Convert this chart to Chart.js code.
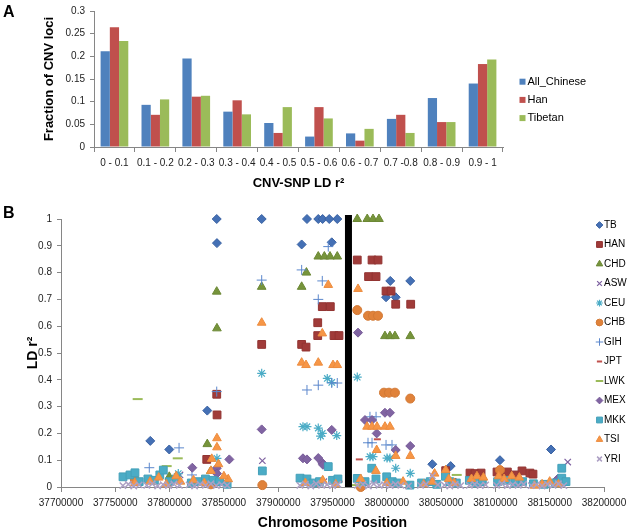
<!DOCTYPE html>
<html>
<head>
<meta charset="utf-8">
<script src="https://cdn.jsdelivr.net/npm/chart.js@4.4.1/dist/chart.umd.min.js"></script>
<style>
body { margin: 0; background: #fff; width: 632px; height: 532px; position: relative; overflow: hidden; font-family: Arial, "Liberation Sans", sans-serif; }
canvas { position: absolute; left: 0; }
#chartA { top: 0; }
#chartB { top: 195px; }
.panel { position: absolute; font-weight: bold; font-size: 16px; color: #000; }
</style>
</head>
<body>
<canvas id="chartA" width="632" height="195"></canvas>
<canvas id="chartB" width="632" height="337"></canvas>
<div class="panel" style="left:3px;top:3px">A</div>
<div class="panel" style="left:3px;top:204px">B</div>
<script>
// ---- panel A: fraction of CNV loci per LD bin ----
const ldBins = ['0 - 0.1', '0.1 - 0.2', '0.2 - 0.3', '0.3 - 0.4', '0.4 - 0.5', '0.5 - 0.6', '0.6 - 0.7', '0.7 -0.8', '0.8 - 0.9', '0.9 - 1'];
const allChinese = [0.211, 0.093, 0.195, 0.078, 0.053, 0.023, 0.030, 0.062, 0.108, 0.140];
const han = [0.264, 0.071, 0.111, 0.103, 0.031, 0.088, 0.014, 0.071, 0.055, 0.183];
const tibetan = [0.234, 0.105, 0.113, 0.072, 0.088, 0.063, 0.040, 0.031, 0.055, 0.193];
const fractionTicks = [0, 0.05, 0.1, 0.15, 0.2, 0.25, 0.3];

// ---- panel B: LD r2 by chromosome position, [position, r2] ----
const positionTicks = [37700000, 37750000, 37800000, 37850000, 37900000, 37950000, 38000000, 38050000, 38100000, 38150000, 38200000];
const ldTicks = [0, 0.1, 0.2, 0.3, 0.4, 0.5, 0.6, 0.7, 0.8, 0.9, 1];
const cnvPosition = 37964700;

const tb = [[37843400, 1.0], [37843600, 0.91], [37782200, 0.172], [37799700, 0.14], [37834700, 0.285],
  [37884800, 1.0], [37926500, 1.0], [37936900, 1.0], [37940900, 1.0], [37947000, 1.0], [37954400, 1.0],
  [37921600, 0.905], [37949300, 0.913], [38003200, 0.769], [38021600, 0.769], [37999300, 0.708], [38008200, 0.708],
  [38041900, 0.085], [38058800, 0.078], [38104200, 0.1], [38151200, 0.14]];
const hanPts = [[37843400, 0.346], [37843700, 0.269], [37834200, 0.103],
  [37884800, 0.532], [37921600, 0.532], [37925600, 0.522], [37936400, 0.613], [37936400, 0.565],
  [37940600, 0.673], [37948000, 0.673], [37951400, 0.565], [37956000, 0.565],
  [37972800, 0.847], [37986400, 0.847], [37991900, 0.847], [37983200, 0.785], [37990100, 0.785],
  [37999300, 0.731], [38003900, 0.731], [38008200, 0.682], [38022000, 0.682],
  [38054200, 0.061], [38076600, 0.052], [38081200, 0.05], [38086800, 0.052], [38101500, 0.056], [38106000, 0.05],
  [38111000, 0.056], [38118000, 0.045], [38124500, 0.06], [38131800, 0.052], [38134600, 0.048]];
const chd = [[37843400, 0.729], [37843600, 0.592], [37834700, 0.16], [37799700, 0.038],
  [37884800, 0.747], [37921600, 0.747], [37926000, 0.80],
  [37936900, 0.86], [37942500, 0.86], [37947700, 0.86], [37954400, 0.86],
  [37972800, 1.0], [37982000, 1.0], [37987300, 1.0], [37992800, 1.0],
  [37998300, 0.563], [38002900, 0.563], [38007500, 0.563], [38021600, 0.563],
  [37838000, 0.06], [38160000, 0.02]];
const asw = [[37885400, 0.098], [37809600, 0.045], [38166600, 0.093], [37942000, 0.02]];
const ceu = [[37884800, 0.424], [37922800, 0.225], [37926500, 0.225], [37936900, 0.22], [37940600, 0.2], [37939000, 0.19],
  [37953900, 0.192], [37945200, 0.405], [37949300, 0.39], [37972800, 0.41],
  [37984500, 0.113], [37987300, 0.113], [38000200, 0.108], [38002900, 0.108], [38008200, 0.07], [38021600, 0.051],
  [37843600, 0.107], [37808000, 0.05]];
const chb = [[37885400, 0.007], [37972800, 0.66], [37982700, 0.639], [37987300, 0.639], [37991900, 0.639],
  [37997400, 0.352], [38002000, 0.352], [38007500, 0.352], [38021600, 0.33],
  [38104200, 0.063], [37768100, 0.026], [37838000, 0.01], [37976000, 0.0]];
const gih = [[37808700, 0.146], [37843400, 0.356], [37781300, 0.072],
  [37884800, 0.772], [37921600, 0.81], [37940600, 0.769], [37936900, 0.70], [37946100, 0.897],
  [37926500, 0.362], [37936900, 0.38], [37949300, 0.388], [37954400, 0.388],
  [37984500, 0.262], [37990100, 0.262], [37982700, 0.165], [37986400, 0.165],
  [37999300, 0.157], [38004800, 0.157], [37820600, 0.045]];
const jpt = [[37991300, 0.178], [37974700, 0.103], [37956000, 0.02], [37934000, 0.005], [38061000, 0.03]];
const lwk = [[37770600, 0.328], [37807500, 0.107], [37797300, 0.078], [38064400, 0.045], [37972300, 0.007]];
const mex = [[37884800, 0.215], [37922800, 0.107], [37926500, 0.103], [37936900, 0.108], [37940600, 0.09], [37941200, 0.083],
  [37949300, 0.213], [37973500, 0.576], [37979900, 0.25], [37986400, 0.25], [37998300, 0.277], [38002900, 0.277],
  [37990700, 0.2], [38008200, 0.138], [38021600, 0.153],
  [37855000, 0.103], [37820900, 0.072], [37843400, 0.07], [37843600, 0.05], [38157300, 0.03]];
const mkk = [[37757100, 0.038], [37763500, 0.045], [37768100, 0.053], [37772000, 0.02],
  [37780000, 0.03], [37786000, 0.025], [37791000, 0.045], [37794200, 0.063], [37800000, 0.02], [37806000, 0.03],
  [37820000, 0.015], [37826000, 0.02], [37833000, 0.03], [37840000, 0.025], [37846000, 0.02], [37853000, 0.01],
  [37885400, 0.06],
  [37920100, 0.033], [37926500, 0.03], [37932000, 0.015], [37938000, 0.02], [37946100, 0.076], [37950000, 0.025], [37955000, 0.03],
  [37972800, 0.032], [37980000, 0.02], [37986100, 0.07], [37990000, 0.03], [37999900, 0.038], [38005000, 0.02], [38010000, 0.015], [38021300, 0.007],
  [38032000, 0.015], [38040000, 0.02], [38046000, 0.01],
  [38054000, 0.04], [38058000, 0.02], [38064000, 0.015],
  [38076000, 0.025], [38082000, 0.015], [38088000, 0.02],
  [38102000, 0.02], [38110000, 0.025], [38118000, 0.015], [38125000, 0.02],
  [38135000, 0.012], [38145000, 0.01], [38155000, 0.015], [38161100, 0.07], [38161100, 0.033], [38165000, 0.02]];
const tsi = [[37884800, 0.613], [37921600, 0.464], [37925600, 0.455], [37936900, 0.464], [37950500, 0.455], [37954400, 0.455],
  [37940600, 0.573], [37946100, 0.754], [37973500, 0.739],
  [37981800, 0.225], [37986400, 0.225], [37991000, 0.225], [37998300, 0.225], [38002900, 0.225],
  [37990700, 0.138], [38008200, 0.116], [38021600, 0.116],
  [37843600, 0.182], [37843600, 0.148], [37838800, 0.105], [37854000, 0.029],
  [37768000, 0.015], [37782000, 0.02], [37790000, 0.035], [37797000, 0.01], [37806000, 0.04], [37810000, 0.02],
  [37822000, 0.025], [37832000, 0.015], [37838000, 0.06], [37845000, 0.085], [37850000, 0.04],
  [37925000, 0.015], [37941000, 0.025], [37953000, 0.01],
  [37976000, 0.03], [37990000, 0.06], [38000000, 0.015], [38015000, 0.02],
  [38034000, 0.01], [38044000, 0.05], [38042000, 0.02],
  [38054200, 0.063], [38057000, 0.03], [38062000, 0.015],
  [38078000, 0.03], [38083000, 0.04], [38089000, 0.035],
  [38103000, 0.04], [38108000, 0.03], [38115000, 0.04], [38122000, 0.035],
  [38136000, 0.005], [38143000, 0.01], [38150000, 0.02], [38158000, 0.01]];
const yri = [[37757000, 0.005], [37762000, 0.01], [37767000, 0.004], [37772000, 0.008],
  [37779000, 0.006], [37784000, 0.012], [37789000, 0.004], [37794000, 0.009], [37799000, 0.005], [37804000, 0.011], [37809000, 0.006],
  [37818000, 0.008], [37823000, 0.004], [37828000, 0.01], [37833000, 0.006], [37838000, 0.012], [37843000, 0.005], [37848000, 0.009], [37853000, 0.006],
  [37920000, 0.006], [37925000, 0.01], [37930000, 0.004], [37935000, 0.012], [37940000, 0.006], [37945000, 0.009], [37950000, 0.005], [37955000, 0.01],
  [37973000, 0.006], [37978000, 0.01], [37983000, 0.004], [37988000, 0.012], [37993000, 0.006], [37998000, 0.009], [38003000, 0.005], [38008000, 0.01], [38013000, 0.006], [38020000, 0.004],
  [38031000, 0.006], [38036000, 0.01], [38041900, 0.042], [38047000, 0.008],
  [38053000, 0.007], [38058000, 0.004], [38063000, 0.01], [38068000, 0.005],
  [38076000, 0.006], [38081000, 0.01], [38086000, 0.005], [38091000, 0.008],
  [38101000, 0.006], [38106000, 0.012], [38111000, 0.005], [38116000, 0.009], [38121000, 0.006], [38126000, 0.01],
  [38133000, 0.005], [38138000, 0.009], [38143000, 0.004], [38148000, 0.01], [38153000, 0.006], [38158000, 0.012], [38163000, 0.005]];

const axisGrey = '#868686';
const tickFont = { family: 'Arial, "Liberation Sans", sans-serif', size: 10 };
const plainNumber = v => String(Number(Number(v).toFixed(4)));

// legend drawn beside the plot, from the chart's own datasets
const sideLegend = {
  id: 'sideLegend',
  afterDraw(chart, args, opts) {
    const ctx = chart.ctx;
    ctx.save();
    ctx.font = opts.font;
    ctx.textBaseline = 'middle';
    let y = opts.y;
    chart.data.datasets.forEach(ds => {
      if (ds.noLegend) return;
      if (opts.box) {
        ctx.fillStyle = ds.backgroundColor;
        ctx.fillRect(opts.x - 3, y - 3, 6, 6);
      } else {
        ctx.fillStyle = ds.backgroundColor || 'transparent';
        ctx.strokeStyle = ds.borderColor;
        ctx.lineWidth = ds.borderWidth;
        Chart.helpers.drawPoint(ctx, { pointStyle: ds.pointStyle, radius: ds.pointRadius * 0.75, rotation: 0, borderWidth: ds.borderWidth }, opts.x, y);
      }
      ctx.fillStyle = '#000';
      ctx.fillText(ds.label, opts.x + opts.gap, y);
      y += opts.step;
    });
    ctx.restore();
  }
};

new Chart(document.getElementById('chartA'), {
  type: 'bar',
  data: {
    labels: ldBins,
    datasets: [
      { label: 'All_Chinese', data: allChinese, backgroundColor: '#4F81BD' },
      { label: 'Han', data: han, backgroundColor: '#C0504D' },
      { label: 'Tibetan', data: tibetan, backgroundColor: '#9BBB59' }
    ]
  },
  options: {
    responsive: false,
    animation: false,
    devicePixelRatio: 1,
    layout: { padding: { left: 42, right: 129, top: 7, bottom: 4 } },
    datasets: { bar: { categoryPercentage: 0.677, barPercentage: 1.0 } },
    plugins: {
      legend: { display: false },
      tooltip: { enabled: false },
      sideLegend: { x: 522.5, y: 81.7, step: 18.2, gap: 5, box: true, font: '11px Arial, "Liberation Sans", sans-serif' }
    },
    scales: {
      x: {
        afterFit: s => { s.height = 44; },
        grid: { display: true, drawOnChartArea: false, tickLength: 5, color: axisGrey, offset: true },
        border: { color: axisGrey },
        ticks: { font: tickFont, color: '#222', padding: 5, maxRotation: 0, autoSkip: false },
        title: { display: true, text: 'CNV-SNP LD r²', font: { family: 'Arial, "Liberation Sans", sans-serif', size: 13, weight: 'bold' }, color: '#000', padding: 0 }
      },
      y: {
        min: fractionTicks[0], max: fractionTicks[fractionTicks.length - 1],
        afterFit: s => { s.width = 52; },
        afterBuildTicks: s => { s.ticks = fractionTicks.map(v => ({ value: v })); },
        grid: { display: true, drawOnChartArea: false, tickLength: 4, color: axisGrey },
        border: { color: axisGrey },
        ticks: { font: tickFont, color: '#222', padding: 5, callback: plainNumber },
        title: { display: true, text: 'Fraction of CNV loci', font: { family: 'Arial, "Liberation Sans", sans-serif', size: 13, weight: 'bold' }, color: '#000', padding: 0 }
      }
    }
  },
  plugins: [sideLegend]
});

const toXY = arr => arr.map(p => ({ x: p[0], y: p[1] }));
const seriesB = [
  { label: 'TB', pts: tb, pointStyle: 'rectRot', r: 4.5, bg: '#4470B5', bd: '#3A62A2', bw: 1 },
  { label: 'HAN', pts: hanPts, pointStyle: 'rect', r: 5.5, bg: '#A03B39', bd: '#923432', bw: 1 },
  { label: 'CHD', pts: chd, pointStyle: 'triangle', r: 5, bg: '#76943B', bd: '#6C8835', bw: 1 },
  { label: 'ASW', pts: asw, pointStyle: 'crossRot', r: 4.5, bg: null, bd: '#7D60A0', bw: 1.2 },
  { label: 'CEU', pts: ceu, pointStyle: 'star', r: 4.5, bg: null, bd: '#4BACC6', bw: 1.2 },
  { label: 'CHB', pts: chb, pointStyle: 'circle', r: 4.5, bg: '#E0823A', bd: '#D27935', bw: 1 },
  { label: 'GIH', pts: gih, pointStyle: 'cross', r: 5, bg: null, bd: '#5B87CC', bw: 1 },
  { label: 'JPT', pts: jpt, pointStyle: 'line', r: 3.5, bg: null, bd: '#C0504D', bw: 2 },
  { label: 'LWK', pts: lwk, pointStyle: 'line', r: 5, bg: null, bd: '#9BBB59', bw: 2 },
  { label: 'MEX', pts: mex, pointStyle: 'rectRot', r: 4.5, bg: '#8064A2', bd: '#775B98', bw: 1 },
  { label: 'MKK', pts: mkk, pointStyle: 'rect', r: 5.5, bg: '#4BACC6', bd: '#44A0B9', bw: 1 },
  { label: 'TSI', pts: tsi, pointStyle: 'triangle', r: 5, bg: '#F79646', bd: '#EC8C3F', bw: 1 },
  { label: 'YRI', pts: yri, pointStyle: 'crossRot', r: 4.5, bg: null, bd: '#ADA0C4', bw: 1.5 }
];

const datasetsB = seriesB.map((s, i) => ({
  type: 'scatter',
  label: s.label,
  data: toXY(s.pts),
  pointStyle: s.pointStyle,
  pointRadius: s.r,
  backgroundColor: s.bg || 'rgba(0,0,0,0)',
  borderColor: s.bd,
  borderWidth: s.bw,
  clip: false,
  order: seriesB.length - i + 1
}));
datasetsB.push({
  type: 'line',
  label: 'CNV',
  noLegend: true,
  data: [{ x: cnvPosition, y: 0 }, { x: cnvPosition, y: 1.015 }],
  borderColor: '#000',
  borderWidth: 7,
  borderCapStyle: 'butt',
  pointRadius: 0,
  clip: false,
  order: 0
});

new Chart(document.getElementById('chartB'), {
  type: 'scatter',
  data: { datasets: datasetsB },
  options: {
    responsive: false,
    animation: false,
    devicePixelRatio: 1,
    layout: { padding: { left: 25, right: 28, top: 24, bottom: 0 } },
    plugins: {
      legend: { display: false },
      tooltip: { enabled: false },
      sideLegend: { x: 599.5, y: 30, step: 19.5, gap: 4.5, box: false, font: '10px Arial, "Liberation Sans", sans-serif' }
    },
    scales: {
      x: {
        type: 'linear',
        min: positionTicks[0], max: positionTicks[positionTicks.length - 1],
        afterFit: s => { s.height = 45; },
        afterBuildTicks: s => { s.ticks = positionTicks.map(v => ({ value: v })); },
        grid: { display: true, drawOnChartArea: false, tickLength: 5, color: axisGrey },
        border: { color: axisGrey },
        ticks: { font: tickFont, color: '#222', padding: 5, maxRotation: 0, autoSkip: false, callback: v => String(v) },
        title: { display: true, text: 'Chromosome Position', font: { family: 'Arial, "Liberation Sans", sans-serif', size: 14, weight: 'bold' }, color: '#000', padding: 0 }
      },
      y: {
        min: ldTicks[0], max: ldTicks[ldTicks.length - 1],
        afterFit: s => { s.width = 36; },
        afterBuildTicks: s => { s.ticks = ldTicks.map(v => ({ value: v })); },
        grid: { display: true, drawOnChartArea: false, tickLength: 4, color: axisGrey },
        border: { color: axisGrey },
        ticks: { font: tickFont, color: '#222', padding: 5, callback: plainNumber },
        title: { display: true, text: 'LD r²', font: { family: 'Arial, "Liberation Sans", sans-serif', size: 14, weight: 'bold' }, color: '#000', padding: 0 }
      }
    }
  },
  plugins: [sideLegend]
});
</script>
</body>
</html>
